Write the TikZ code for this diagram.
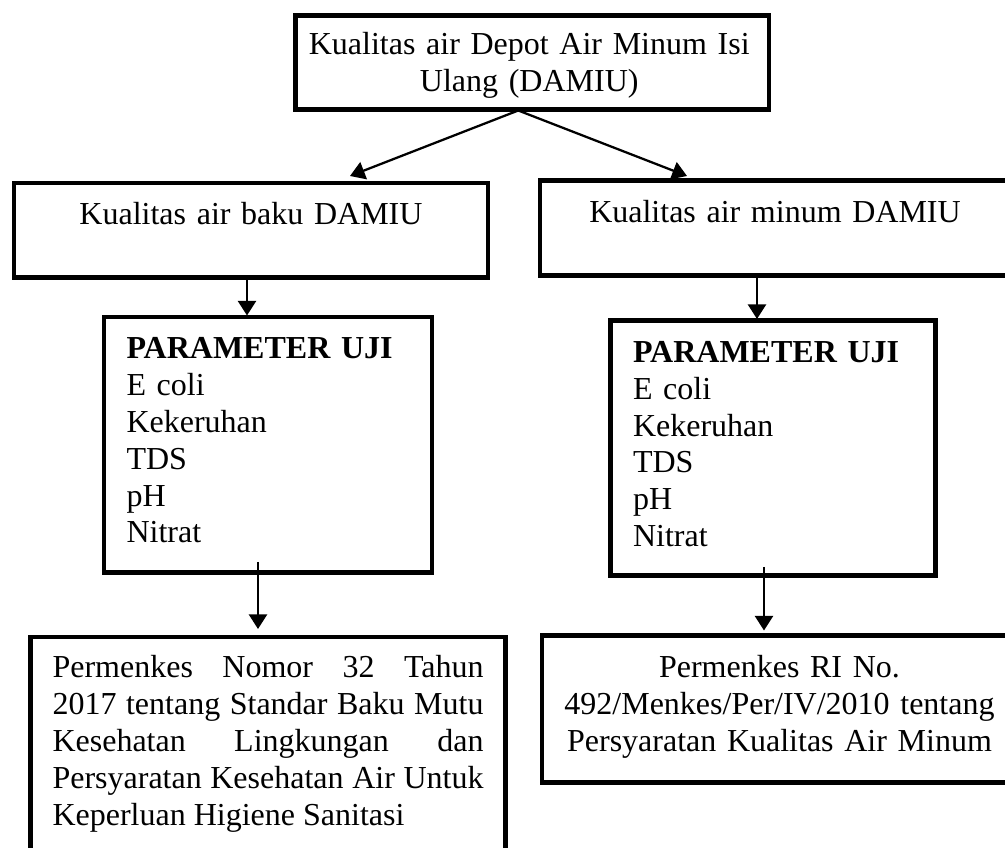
\documentclass[tikz,border=0pt]{standalone}
\usepackage{fontspec}
\setmainfont{Liberation Serif}
\usetikzlibrary{arrows.meta}
\newcommand\px{0.375pt}

\begin{document}
\begin{tikzpicture}[x=\px,y=-\px,
    box/.style={draw,line width=1.7pt,outer sep=0pt,inner sep=0pt},
    txt/.style={inner sep=0pt,font=\fontsize{12pt}{13.8pt}\selectfont},
    arr/.style={line width=0.85pt,-{Triangle[length=5.5pt,width=6.8pt]}}]
    \useasboundingbox (0,0) rectangle (1005,848);
    \node[box,minimum width=473.5*\px,minimum height=94*\px] (top) at (532.25,62.5) {};
    \node[box,minimum width=474*\px,minimum height=94.5*\px] (lmid) at (251,230.25) {};
    \node[box,minimum width=470*\px,minimum height=95*\px] (rmid) at (775,228) {};
    \node[box,minimum width=328*\px,minimum height=255.5*\px] (lpar) at (268,444.75) {};
    \node[box,minimum width=325*\px,minimum height=255*\px] (rpar) at (773,448) {};
    \node[box,minimum width=475*\px,minimum height=218*\px] (lbot) at (268,746) {};
    \node[box,minimum width=470*\px,minimum height=147*\px] (rbot) at (777,709) {};

    \node[txt,anchor=base,text width=465*\px,align=center] at ([shift={(-3,39.5)}]top.north)
        {Kualitas air Depot Air Minum Isi\\Ulang (DAMIU)};
    \node[txt,anchor=base,text width=460*\px,align=center] at ([shift={(0,42)}]lmid.north)
        {Kualitas air baku DAMIU};
    \node[txt,anchor=base,text width=460*\px,align=center] at ([shift={(0,42)}]rmid.north)
        {Kualitas air minum DAMIU};
    \node[txt,anchor=base west,text width=300*\px,align=left] at ([shift={(22,42)}]lpar.north west)
        {\textbf{PARAMETER UJI}\\E coli\\Kekeruhan\\TDS\\pH\\Nitrat};
    \node[txt,anchor=base west,text width=300*\px,align=left] at ([shift={(22,42)}]rpar.north west)
        {\textbf{PARAMETER UJI}\\E coli\\Kekeruhan\\TDS\\pH\\Nitrat};
    \node[txt,anchor=base west,text width=431*\px,align=justify] at ([shift={(21.5,41)}]lbot.north west)
        {Permenkes Nomor 32 Tahun\linebreak 2017 tentang Standar Baku Mutu\linebreak Kesehatan Lingkungan dan\linebreak Persyaratan Kesehatan Air Untuk\linebreak Keperluan Higiene Sanitasi};
    \node[txt,anchor=base,text width=450*\px,align=center] at ([shift={(2.5,42.5)}]rbot.north)
        {Permenkes RI No.\\492/Menkes/Per/IV/2010 tentang\\Persyaratan Kualitas Air Minum};

    \coordinate (split) at ([shift={(-14,1)}]top.south);
    \draw[arr] (split) -- ([shift={(99,-7)}]lmid.north);
    \draw[arr] (split) -- ([shift={(-88,-4.5)}]rmid.north);
    \draw[arr] ([shift={(-4,0)}]lmid.south) -- ([shift={(-21,-1.5)}]lpar.north);
    \draw[arr] ([shift={(-18,0)}]rmid.south) -- ([shift={(-16,-1.5)}]rpar.north);
    \draw[arr] ([shift={(-10,-10.5)}]lpar.south) -- ([shift={(-10,-8)}]lbot.north);
    \draw[arr] ([shift={(-9,-8.5)}]rpar.south) -- ([shift={(-13,-5)}]rbot.north);
\end{tikzpicture}
\end{document}
